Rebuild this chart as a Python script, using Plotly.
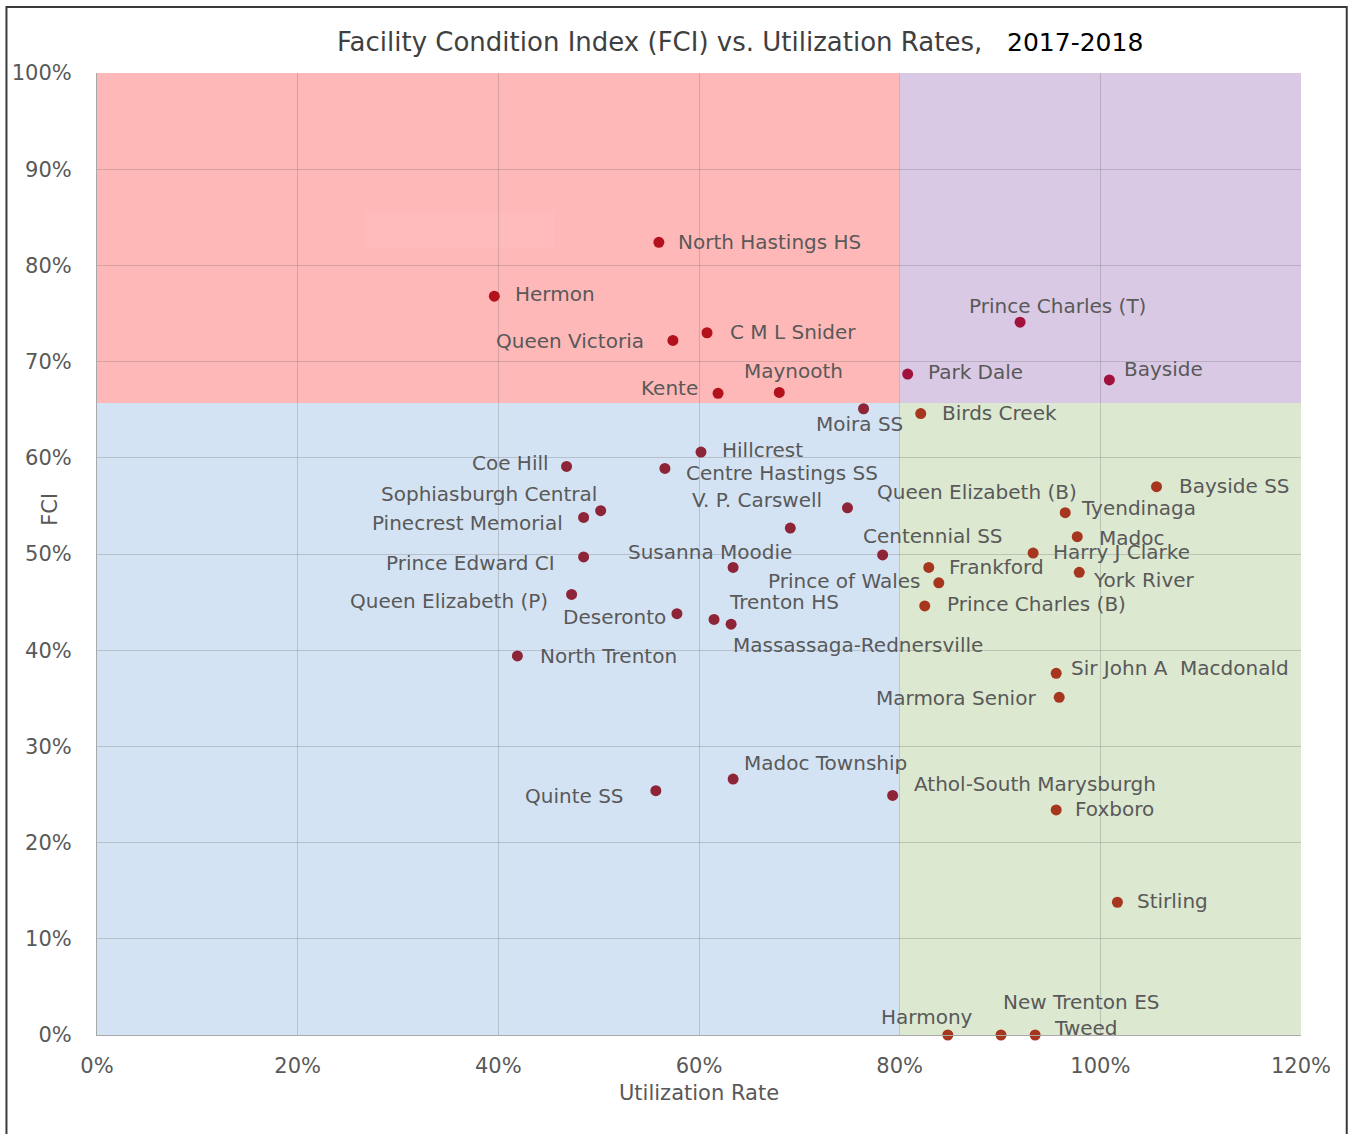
import plotly.graph_objects as go

# ---------------- data ----------------
NAMES = [
    "North Hastings HS", "Hermon", "Queen Victoria", "C M L Snider", "Kente",
    "Maynooth", "Park Dale", "Prince Charles (T)", "Bayside", "Moira SS",
    "Birds Creek", "Hillcrest", "Coe Hill", "Centre Hastings SS",
    "Sophiasburgh Central", "Pinecrest Memorial", "Queen Elizabeth (B)",
    "V. P. Carswell", "Prince Edward CI", "Susanna Moodie", "Centennial SS",
    "Queen Elizabeth (P)", "Deseronto", "Trenton HS", "Massassaga-Rednersville",
    "North Trenton", "Prince of Wales", "Frankford", "Prince Charles (B)",
    "Bayside SS", "Tyendinaga", "Madoc", "Harry J Clarke", "York River",
    "Sir John A  Macdonald", "Marmora Senior", "Madoc Township", "Quinte SS",
    "Athol-South Marysburgh", "Foxboro", "Stirling", "Harmony",
    "New Trenton ES", "Tweed",
]
UTIL = [
    56.0, 39.6, 57.4, 60.8, 61.9,
    68.0, 80.8, 92.0, 100.9, 76.4,
    82.1, 60.2, 46.8, 56.6,
    50.2, 48.5, 74.8,
    69.1, 48.5, 63.4, 78.3,
    47.3, 57.8, 61.5, 63.2,
    41.9, 83.9, 82.9, 82.5,
    105.6, 96.5, 97.7, 93.3, 97.9,
    95.6, 95.9, 63.4, 55.7,
    79.3, 95.6, 101.7, 84.8,
    90.1, 93.5,
]
FCI = [
    82.4, 76.8, 72.2, 73.0, 66.7,
    66.8, 68.7, 74.1, 68.1, 65.1,
    64.6, 60.6, 59.1, 58.9,
    54.5, 53.8, 54.8,
    52.7, 49.7, 48.6, 49.9,
    45.8, 43.8, 43.2, 42.7,
    39.4, 47.0, 48.6, 44.6,
    57.0, 54.3, 51.8, 50.1, 48.1,
    37.6, 35.1, 26.6, 25.4,
    24.9, 23.4, 13.8, 0.0,
    0.0, 0.0,
]
X_TICKS = [0, 20, 40, 60, 80, 100, 120]
Y_TICKS = [0, 10, 20, 30, 40, 50, 60, 70, 80, 90, 100]
X_TICK_TEXT = [f"{v}%" for v in X_TICKS]
Y_TICK_TEXT = [f"{v}%" for v in Y_TICKS]

# quadrant thresholds
UTIL_SPLIT = 80
FCI_SPLIT = 65.7

# ---------------- label placement (style only) ----------------
# (xanchor, x shift px, y shift px upward)
LABEL_POS = [
    ("left", 17, 0), ("left", 19, 2), ("right", -27, -1), ("left", 21, 1), ("right", -18, 5),
    ("center", 14, 21), ("left", 18, 2), ("center", 37, 16), ("left", 13, 11), ("center", -4, -15),
    ("left", 19, 1), ("left", 19, 2), ("right", -16, 3), ("left", 19, -5),
    ("right", -2, 17), ("right", -19, -6), ("left", 28, 16),
    ("center", -33, 28), ("right", -27, -6), ("center", -23, 15), ("center", 50, 19),
    ("right", -22, -7), ("right", -9, -3), ("left", 13, 17), ("left", 0, -21),
    ("left", 21, 0), ("right", -16, 2), ("left", 18, 0), ("left", 20, 2),
    ("left", 20, 1), ("left", 14, 5), ("left", 20, -1), ("left", 18, 1), ("left", 12, -8),
    ("left", 13, 5), ("right", -21, -1), ("left", 9, 16), ("right", -30, -5),
    ("left", 19, 11), ("left", 17, 1), ("left", 18, 1), ("center", -21, 18),
    ("center", 80, 33), ("left", 17, 7),
]

REGION_FILL = {
    "red": "#FFB8B8",
    "purple": "#D9C9E4",
    "blue": "#D4E3F3",
    "green": "#DCE8D0",
}
DOT_COLOR = {
    "red": "#B3121C",
    "purple": "#A0123C",
    "blue": "#8E2438",
    "green": "#A6361E",
}


def region(u, f):
    if f >= FCI_SPLIT:
        return "red" if u < UTIL_SPLIT else "purple"
    return "blue" if u < UTIL_SPLIT else "green"


FONT = "DejaVu Sans"
GREY = "#595959"

fig = go.Figure()

fig.add_trace(go.Scatter(
    x=UTIL, y=FCI, mode="markers",
    marker=dict(size=11, color=[DOT_COLOR[region(u, f)] for u, f in zip(UTIL, FCI)],
                line=dict(width=0)),
    cliponaxis=False, hoverinfo="text", text=NAMES, showlegend=False,
))

shapes = [
    dict(type="rect", xref="x", yref="y", x0=0, x1=UTIL_SPLIT, y0=FCI_SPLIT, y1=100,
         fillcolor=REGION_FILL["red"], line=dict(width=0), layer="below"),
    dict(type="rect", xref="x", yref="y", x0=UTIL_SPLIT, x1=120, y0=FCI_SPLIT, y1=100,
         fillcolor=REGION_FILL["purple"], line=dict(width=0), layer="below"),
    dict(type="rect", xref="x", yref="y", x0=0, x1=UTIL_SPLIT, y0=0, y1=FCI_SPLIT,
         fillcolor=REGION_FILL["blue"], line=dict(width=0), layer="below"),
    dict(type="rect", xref="x", yref="y", x0=UTIL_SPLIT, x1=120, y0=0, y1=FCI_SPLIT,
         fillcolor=REGION_FILL["green"], line=dict(width=0), layer="below"),
    # faint erased patch in the red area
    dict(type="rect", xref="x", yref="y", x0=26.7, x1=45.6, y0=81.8, y1=85.6,
         fillcolor="rgba(255,255,255,0.05)", line=dict(width=0), layer="below"),
    # outer frame of the picture
    dict(type="rect", xref="paper", yref="paper", x0=-0.0752, x1=1.0380, y0=-0.12, y1=1.0686,
         fillcolor="rgba(0,0,0,0)", line=dict(color="#3A3A3A", width=2)),
]

annotations = []
for name, u, f, (anc, dx, dy) in zip(NAMES, UTIL, FCI, LABEL_POS):
    annotations.append(dict(
        x=u, y=f, xref="x", yref="y", text=name, showarrow=False,
        xanchor=anc, yanchor="middle", xshift=dx, yshift=dy,
        font=dict(family=FONT, size=20, color=GREY),
    ))

annotations += [
    dict(xref="paper", yref="paper", x=0.534, y=1.032, xanchor="center", yanchor="middle",
         showarrow=False,
         text=("<span style='color:#3F3F3F'>Facility Condition Index (FCI) vs. Utilization Rates,</span>"
               "&nbsp;&nbsp;&nbsp;<span style='color:#000000;font-size:25px'>2017-2018</span>"),
         font=dict(family=FONT, size=26, color="#3F3F3F")),
    dict(xref="paper", yref="paper", x=0.5, y=-0.0603, xanchor="center", yanchor="middle",
         showarrow=False, text="Utilization Rate",
         font=dict(family=FONT, size=21, color=GREY)),
    dict(xref="paper", yref="paper", x=-0.039, y=0.546, xanchor="center", yanchor="middle",
         showarrow=False, text="FCI", textangle=-90,
         font=dict(family=FONT, size=21, color=GREY)),
]

fig.update_layout(
    width=1352, height=1134, autosize=False,
    margin=dict(l=97, r=51, t=73, b=99),
    paper_bgcolor="white", plot_bgcolor="white",
    shapes=shapes, annotations=annotations,
    xaxis=dict(range=[0, 120], tickmode="array", tickvals=X_TICKS, ticktext=X_TICK_TEXT,
               showgrid=True, gridcolor="rgba(105,105,105,0.28)", gridwidth=1,
               zeroline=False, showline=True, linecolor="#A8A8A8", linewidth=1,
               ticks="outside", ticklen=12, tickcolor="rgba(0,0,0,0)",
               tickfont=dict(family=FONT, size=21, color=GREY), fixedrange=True),
    yaxis=dict(range=[0, 100], tickmode="array", tickvals=Y_TICKS, ticktext=Y_TICK_TEXT,
               showgrid=True, gridcolor="rgba(105,105,105,0.28)", gridwidth=1,
               zeroline=False, showline=True, linecolor="#A8A8A8", linewidth=1,
               ticks="outside", ticklen=20, tickcolor="rgba(0,0,0,0)",
               tickfont=dict(family=FONT, size=21, color=GREY), fixedrange=True),
    showlegend=False,
)

fig.write_html("out.html", post_script="document.body.style.margin='0';",
               config={"displayModeBar": False})
